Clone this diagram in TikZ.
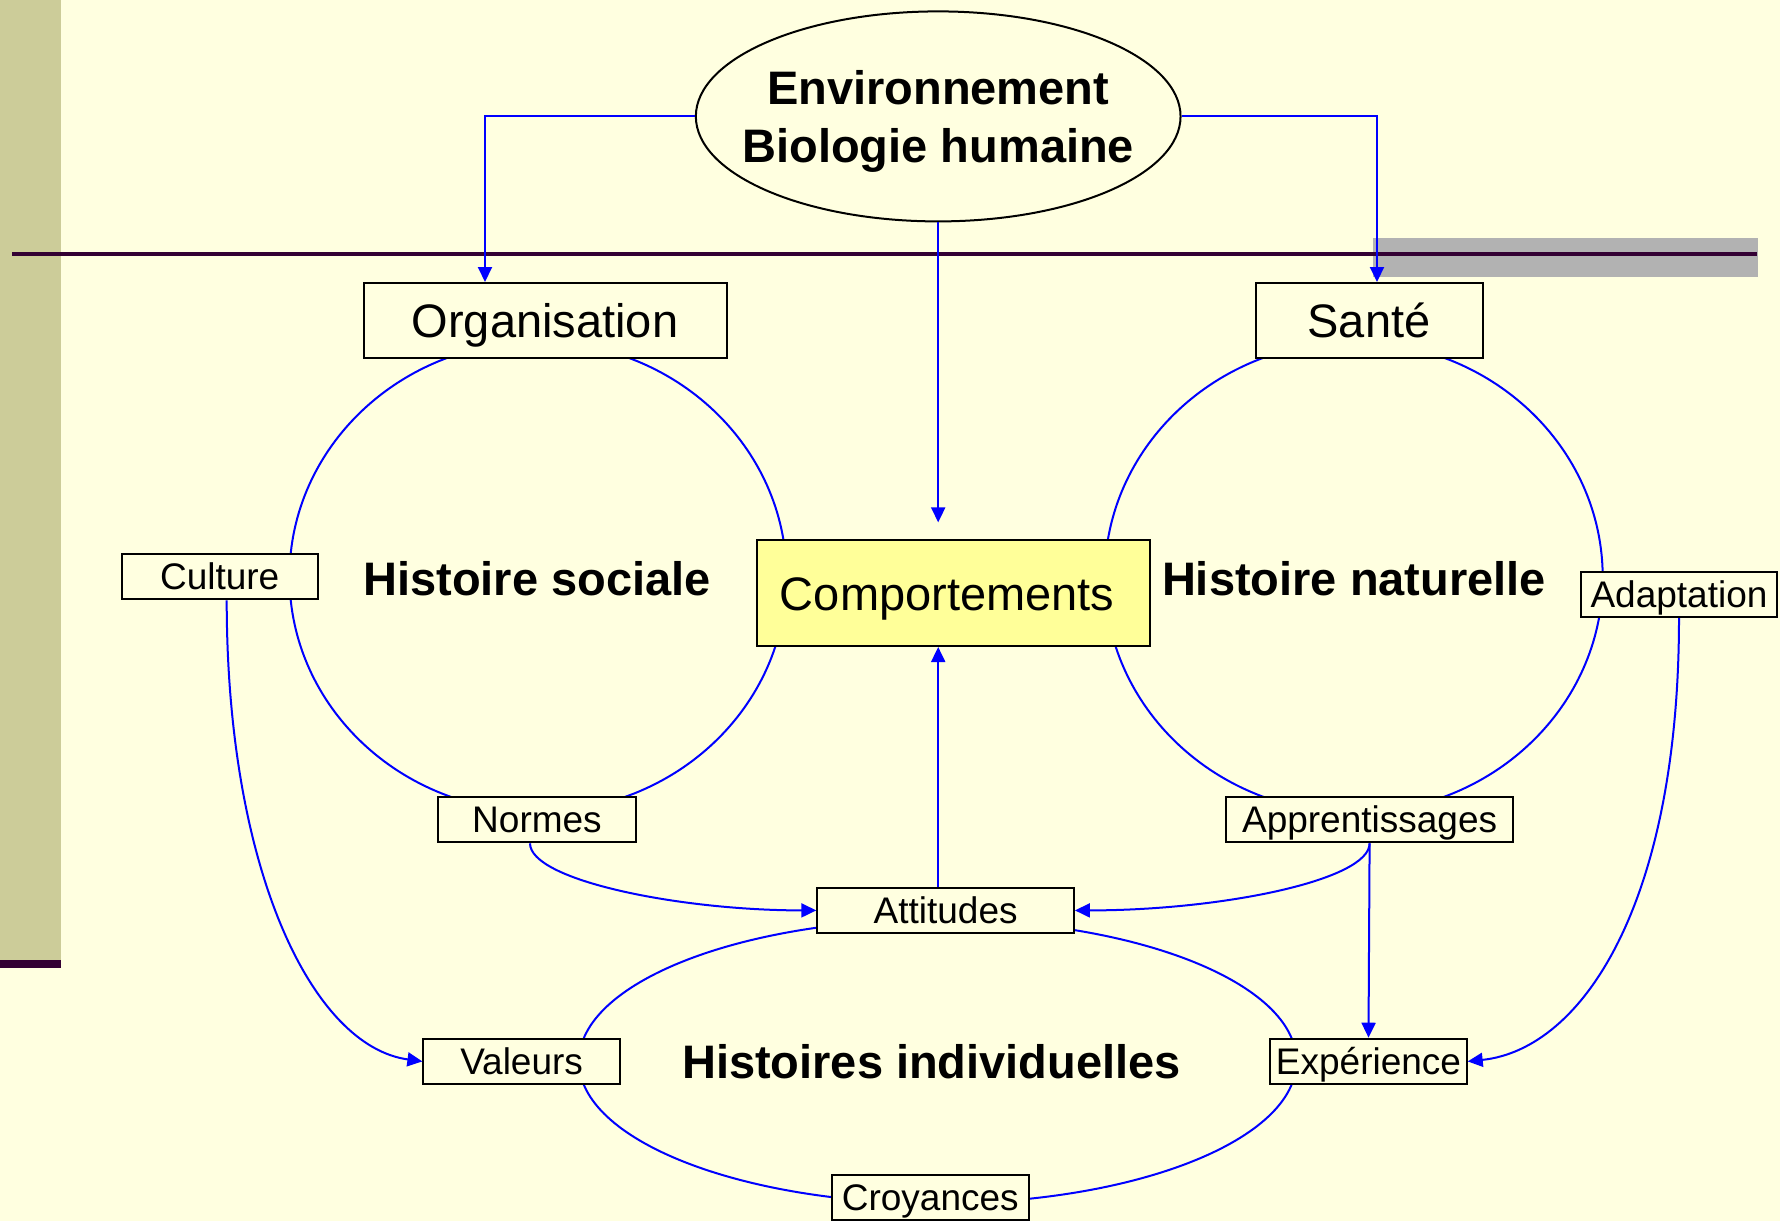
\documentclass[tikz,border=0pt]{standalone}
\usepackage{fontspec}
\setmainfont{Liberation Sans}
\usetikzlibrary{shapes.geometric,arrows.meta,calc}
\definecolor{bg}{HTML}{FFFFE0}
\definecolor{olivebar}{HTML}{CCCC99}
\definecolor{plum}{HTML}{330033}
\definecolor{greybar}{HTML}{B2B2B2}
\definecolor{compfill}{HTML}{FFFF99}
\definecolor{linkblue}{HTML}{0000FF}
\begin{document}
\begin{tikzpicture}[x=1pt,y=-1pt,
  bigbox/.style={draw=black, line width=2pt, fill=bg, inner sep=0pt,
    text height=43pt, text depth=9.4pt, font=\fontsize{47}{56}\selectfont},
  smallbox/.style={draw=black, line width=2pt, fill=bg, inner sep=0pt,
    minimum height=45.4pt, minimum width=196.4pt,
    text height=34pt, text depth=7.5pt, font=\fontsize{37}{44}\selectfont},
  ring/.style={draw=linkblue, line width=2pt, ellipse, inner sep=0pt},
  titletext/.style={font=\fontsize{47}{58}\selectfont\bfseries, inner sep=0pt},
  link/.style={draw=linkblue, line width=2pt},
  arrowlink/.style={link, -{Triangle[length=15pt,width=14pt]}},
]
\useasboundingbox (0,0) rectangle (1780,1221);
\fill[bg] (0,0) rectangle (1780,1221);
% decorations
\fill[olivebar] (0,0) rectangle (61,960);
\fill[plum] (0,960) rectangle (61,968);
\fill[greybar] (1373,238) rectangle (1758,277);
\draw[plum, line width=4pt] (12,254) -- (1757,254);

% rings
\node[ring, minimum width=497pt, minimum height=470pt] (ringS) at (538,576.7) {};
\node[ring, minimum width=498pt, minimum height=471pt] (ringN) at (1353.7,577.3) {};
\node[ring, minimum width=717.4pt, minimum height=284pt] (ringI) at (937.7,1061.4) {};

% top ellipse
\node[ellipse, draw=black, line width=2pt, fill=bg, inner sep=0pt,
      minimum width=484.7pt, minimum height=210pt] (env) at (938.2,116.4) {};
\node[titletext, align=center] (envtext) at (938.2,121.4) {Environnement\\Biologie humaine};

% titles
\node[titletext] (hs) at (537,579) {Histoire sociale};
\node[titletext] (hn) at (1354,579) {Histoire naturelle};
\node[titletext] (hi) at (931.5,1061.4) {Histoires individuelles};

% boxes
\node[bigbox, minimum width=363pt, minimum height=75pt] (org) at (545,320.5) {Organisation};
\node[bigbox, minimum width=227pt, minimum height=75pt] (sante) at (1369,320.5) {Santé};
\node[bigbox, fill=compfill, minimum width=393pt, minimum height=105.6pt] (comp) at (953.6,593.2) {\hspace*{-13pt}Comportements};

\node[smallbox] (cult) at (219.7,576.7) {Culture};
\node[smallbox, minimum width=195.3pt] (adapt) at (1679,594.3) {Adaptation};
\node[smallbox, minimum width=197.5pt] (normes) at (537,819.6) {Normes};
\node[smallbox, minimum width=287.2pt] (app) at (1369.6,819.6) {Apprentissages};
\node[smallbox, minimum width=256.6pt] (att) at (945.6,910.4) {Attitudes};
\node[smallbox] (val) at (521.6,1061.4) {Valeurs};
\node[smallbox] (exp) at (1368.5,1061.4) {Expérience};
\node[smallbox] (croy) at (930.3,1197.7) {Croyances};

% connectors
\draw[arrowlink] (env.west) -| ([xshift=-60pt]org.north);
\draw[arrowlink] (env.east) -| ([xshift=8pt]sante.north);
\draw[arrowlink, shorten >=17pt] (env.south) -- (env.south |- comp.north);
\draw[arrowlink] (att.north -| env.south) -- (comp.south -| env.south);
\draw[arrowlink] ([xshift=-7pt]normes.south) .. controls +(0,37) and +(-137,0) .. (att.west);
\draw[arrowlink] (app.south) .. controls +(0,37) and +(146,0) .. (att.east);
\draw[arrowlink] (app.south) -- (exp.north);
\draw[arrowlink] ([xshift=7pt]cult.south) .. controls +(0,270) and +(-110,-15) .. (val.west);
\draw[arrowlink] (adapt.south) .. controls +(0,285) and +(115,-12) .. (exp.east);
\end{tikzpicture}
\end{document}
